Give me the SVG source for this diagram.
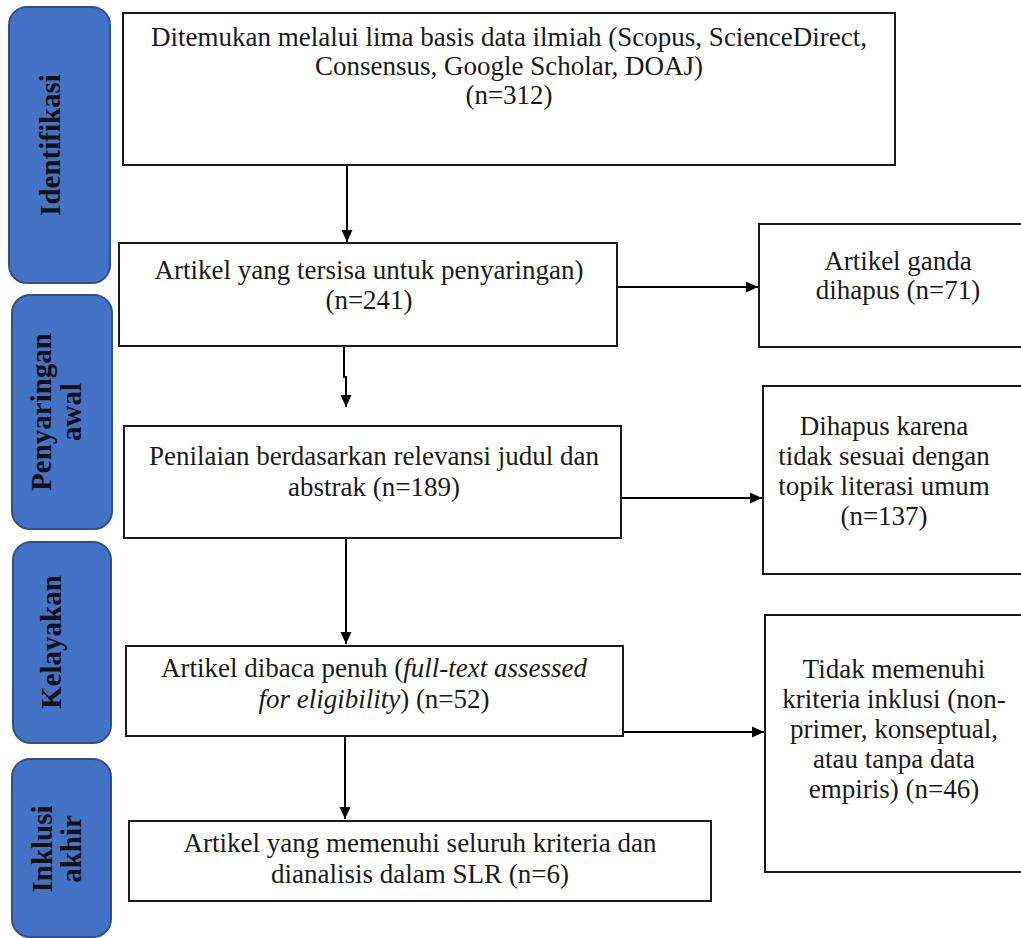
<svg xmlns="http://www.w3.org/2000/svg" width="1021" height="938" viewBox="0 0 1021 938">
<defs>
<marker id="ah" markerUnits="userSpaceOnUse" markerWidth="12" markerHeight="12" refX="12" refY="6" orient="auto">
<path d="M0,0.5 L12,6 L0,11.5 z" fill="#000"/>
</marker>
<style>
.stage rect{fill:#4472C4;stroke:#2F528F;stroke-width:2}
.stage text{font-family:"Liberation Serif","Times New Roman",serif;font-weight:bold;font-size:29px;fill:#111;text-anchor:middle}
.box rect{fill:#fff;stroke:#1a1a1a;stroke-width:2}
.box text{font-family:"Liberation Serif","Times New Roman",serif;font-size:27px;fill:#1a1a1a;text-anchor:middle}
.conn path{fill:none;stroke:#000;stroke-width:2;marker-end:url(#ah)}
.it{font-style:italic}
</style>
</defs>
<rect width="1021" height="938" fill="#fff"/>

<g id="stage-identifikasi" class="stage">
<rect x="9" y="7" width="101" height="276" rx="18"/>
<text transform="translate(0,145) rotate(-90)"><tspan x="0" y="60">Identifikasi</tspan></text>
</g>
<g id="stage-penyaringan" class="stage">
<rect x="12" y="295" width="100" height="234" rx="18"/>
<text transform="translate(0,412) rotate(-90)"><tspan x="0" y="51">Penyaringan</tspan><tspan x="0" y="81">awal</tspan></text>
</g>
<g id="stage-kelayakan" class="stage">
<rect x="13" y="542" width="98" height="201" rx="18"/>
<text transform="translate(0,642) rotate(-90)"><tspan x="0" y="61">Kelayakan</tspan></text>
</g>
<g id="stage-inklusi" class="stage">
<rect x="12" y="759" width="99" height="178" rx="18"/>
<text transform="translate(0,849) rotate(-90)"><tspan x="0" y="52">Inklusi</tspan><tspan x="0" y="81">akhir</tspan></text>
</g>

<g id="connectors" class="conn">
<path d="M347,165 V242"/>
<path d="M344,346 V377 H346 V407"/>
<path d="M617,287 H758"/>
<path d="M346,538 V644"/>
<path d="M621,498 H762"/>
<path d="M345,736 V819"/>
<path d="M623,732 H764"/>
</g>

<g id="node-found" class="box">
<rect x="123" y="13" width="772" height="152"/>
<text><tspan x="509" y="46">Ditemukan melalui lima basis data ilmiah (Scopus, ScienceDirect,</tspan><tspan x="509" y="75">Consensus, Google Scholar, DOAJ)</tspan><tspan x="509" y="104">(n=312)</tspan></text>
</g>
<g id="node-remaining" class="box">
<rect x="119" y="243" width="498" height="103"/>
<text><tspan x="369" y="279">Artikel yang tersisa untuk penyaringan)</tspan><tspan x="369" y="309">(n=241)</tspan></text>
</g>
<g id="node-duplicates" class="box">
<rect x="759" y="224" width="290" height="123"/>
<text><tspan x="898" y="270">Artikel ganda</tspan><tspan x="898" y="299">dihapus (n=71)</tspan></text>
</g>
<g id="node-screening" class="box">
<rect x="124" y="426" width="497" height="112"/>
<text><tspan x="374" y="465">Penilaian berdasarkan relevansi judul dan</tspan><tspan x="374" y="496">abstrak (n=189)</tspan></text>
</g>
<g id="node-removed" class="box">
<rect x="763" y="386" width="290" height="188"/>
<text><tspan x="884" y="435">Dihapus karena</tspan><tspan x="884" y="465">tidak sesuai dengan</tspan><tspan x="884" y="495">topik literasi umum</tspan><tspan x="884" y="525">(n=137)</tspan></text>
</g>
<g id="node-fulltext" class="box">
<rect x="126" y="646" width="497" height="90"/>
<text><tspan x="374" y="677">Artikel dibaca penuh (<tspan class="it">full-text assessed</tspan></tspan><tspan x="374" y="708"><tspan class="it">for eligibility</tspan>) (n=52)</tspan></text>
</g>
<g id="node-excluded" class="box">
<rect x="765" y="615" width="290" height="257"/>
<text><tspan x="894" y="678">Tidak memenuhi</tspan><tspan x="894" y="708">kriteria inklusi (non-</tspan><tspan x="894" y="738">primer, konseptual,</tspan><tspan x="894" y="768">atau tanpa data</tspan><tspan x="894" y="798">empiris) (n=46)</tspan></text>
</g>
<g id="node-included" class="box">
<rect x="129" y="821" width="582" height="80"/>
<text><tspan x="420" y="852">Artikel yang memenuhi seluruh kriteria dan</tspan><tspan x="420" y="883">dianalisis dalam SLR (n=6)</tspan></text>
</g>
</svg>
